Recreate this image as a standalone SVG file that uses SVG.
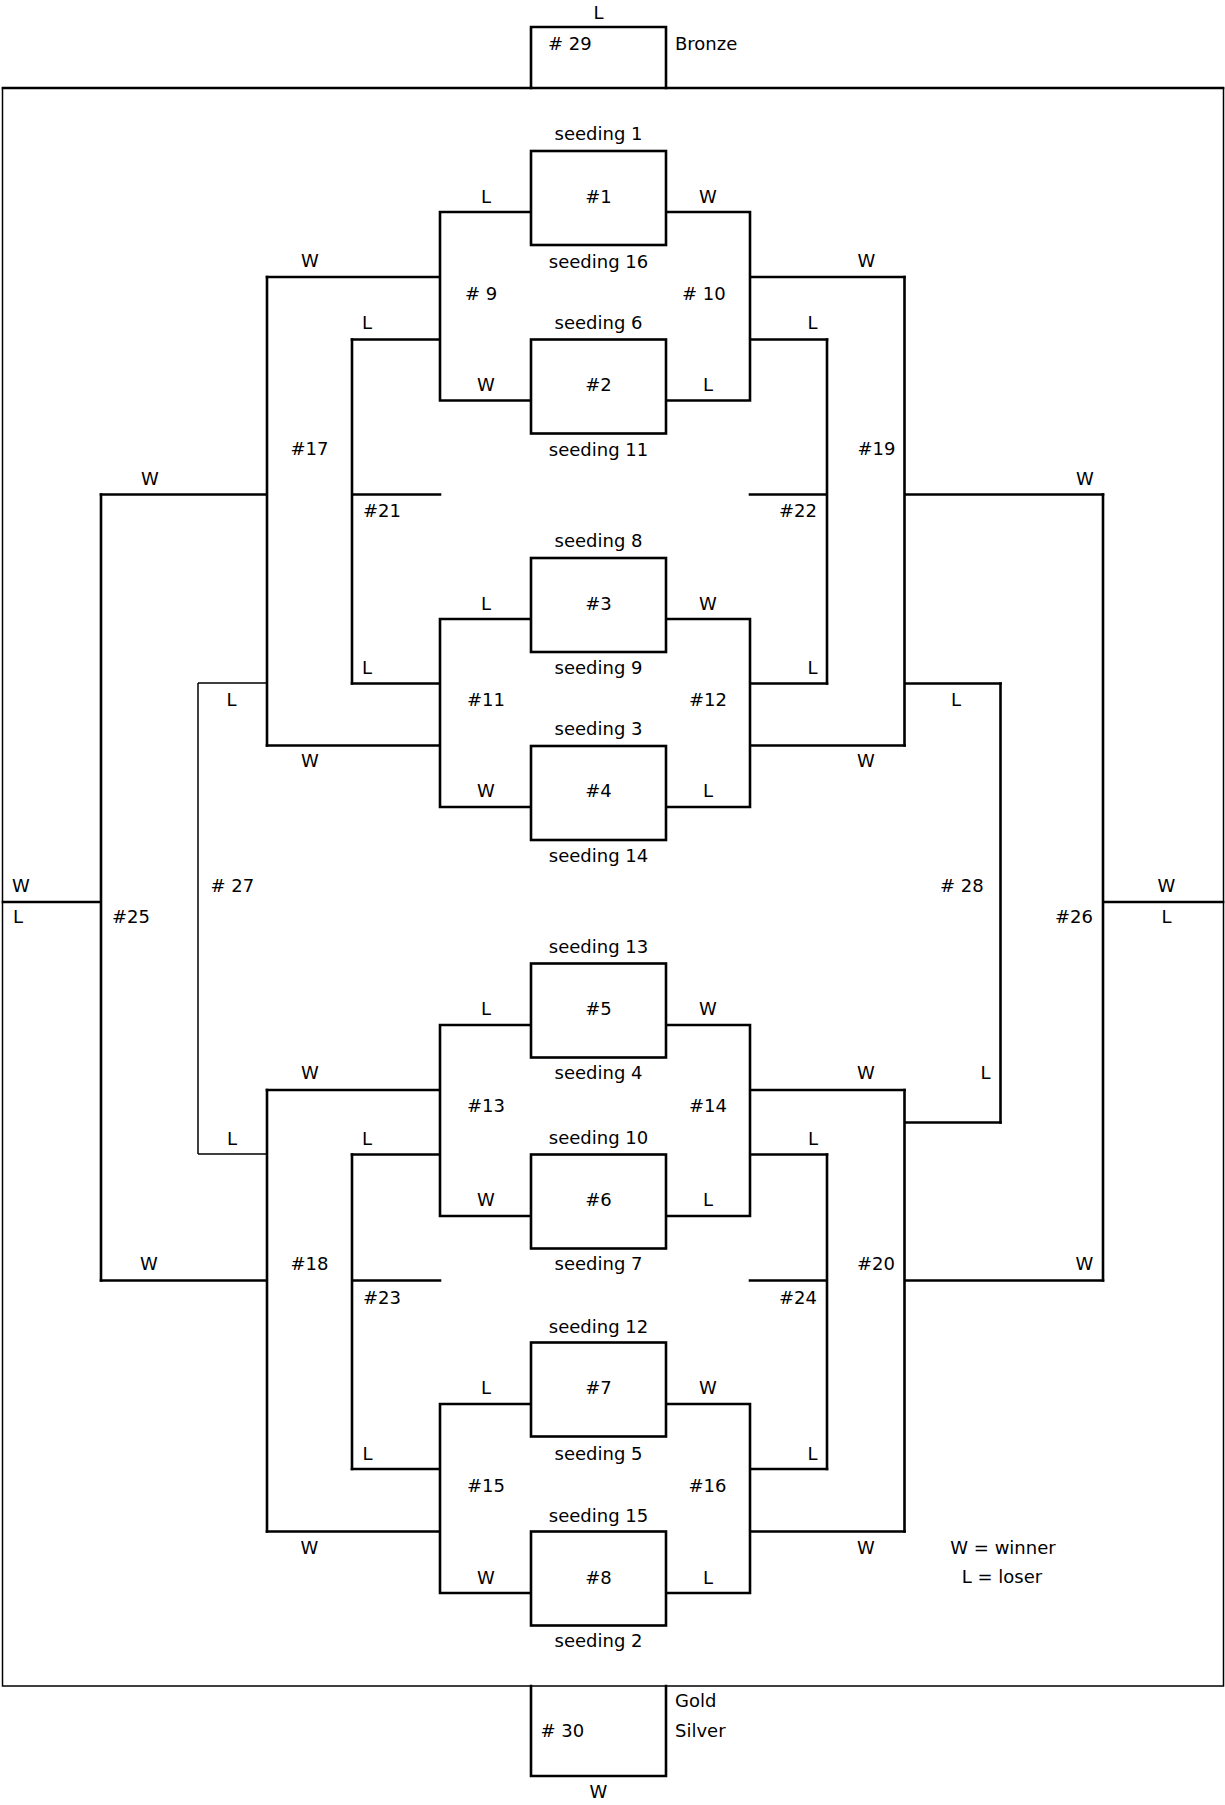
<svg xmlns="http://www.w3.org/2000/svg" width="1225" height="1805" viewBox="0 0 1225 1805">
<style>
text{font-family:"DejaVu Sans","Liberation Sans",sans-serif;font-size:18px;fill:#000}
.m{text-anchor:middle}
.e{text-anchor:end}
.ln{fill:none;stroke:#000;stroke-width:2.6;stroke-linecap:square}
.thin{fill:none;stroke:#000;stroke-width:1.5}
.box{fill:#fff;stroke:#000;stroke-width:2.6}
</style>
<rect x="0" y="0" width="1225" height="1805" fill="#fff"/>
<g id="frame">
<rect class="thin" x="2.5" y="88" width="1221" height="1598"/>
<path class="ln" d="M3,88 H1223"/>
</g>
<g id="connectors">
<!-- round 2 -->
<path id="c9" class="ln" d="M531,212 H440 V400.5 H531 M440,277 H267 M440,339.5 H352"/>
<path id="c10" class="ln" d="M666,212 H750 V400.5 H666 M750,277 H904.5 M750,339.5 H827"/>
<path id="c11" class="ln" d="M531,619 H440 V807 H531 M440,683.5 H352 M440,745.5 H267"/>
<path id="c12" class="ln" d="M666,619 H750 V807 H666 M750,683.5 H827 M750,745.5 H904.5"/>
<path id="c13" class="ln" d="M531,1025 H440 V1216 H531 M440,1090 H267 M440,1154.5 H352"/>
<path id="c14" class="ln" d="M666,1025 H750 V1216 H666 M750,1090 H904.5 M750,1154.5 H827"/>
<path id="c15" class="ln" d="M531,1404 H440 V1593 H531 M440,1469 H352 M440,1531.5 H267"/>
<path id="c16" class="ln" d="M666,1404 H750 V1593 H666 M750,1469 H827 M750,1531.5 H904.5"/>
<!-- round 3 -->
<path id="c17" class="ln" d="M267,277 V745.5 M267,494.5 H101"/>
<path id="c17L" class="thin" d="M267,683 H198"/>
<path id="c19" class="ln" d="M904.5,277 V745.5 M904.5,494.5 H1103 M904.5,683.5 H1000.5"/>
<path id="c18" class="ln" d="M267,1090 V1531.5 M267,1280.5 H101"/>
<path id="c18L" class="thin" d="M267,1154 H198"/>
<path id="c20" class="ln" d="M904.5,1090 V1531.5 M904.5,1280.5 H1103 M904.5,1122.5 H1000.5"/>
<path id="c21" class="ln" d="M352,339.5 V683.5 M352,494.5 H440"/>
<path id="c22" class="ln" d="M827,339.5 V683.5 M827,494.5 H750"/>
<path id="c23" class="ln" d="M352,1154.5 V1469 M352,1280.5 H440"/>
<path id="c24" class="ln" d="M827,1154.5 V1469 M827,1280.5 H750"/>
<!-- round 4 -->
<path id="c25" class="ln" d="M101,494.5 V1280.5 M101,902 H3"/>
<path id="c26" class="ln" d="M1103,494.5 V1280.5 M1103,902 H1223"/>
<path id="c27" class="thin" d="M198,683 V1154"/>
<path id="c28" class="ln" d="M1000.5,683.5 V1122.5"/>
<!-- finals -->
<path id="c29" class="ln" d="M531,88 V27 H666 V88"/>
<path id="c30" class="ln" d="M531,1686 V1776 H666 V1686"/>
</g>
<g id="m1"><rect class="box" x="531" y="151" width="135" height="94"/><text class="m" x="598.5" y="140">seeding 1</text><text class="m" x="598.5" y="203">#1</text><text class="m" x="598.5" y="268">seeding 16</text><text class="m" x="486" y="203">L</text><text class="m" x="708" y="203">W</text></g>
<g id="m2"><rect class="box" x="531" y="339.5" width="135" height="94"/><text class="m" x="598.5" y="329">seeding 6</text><text class="m" x="598.5" y="391">#2</text><text class="m" x="598.5" y="456">seeding 11</text><text class="m" x="486" y="391">W</text><text class="m" x="708" y="391">L</text></g>
<g id="m3"><rect class="box" x="531" y="558" width="135" height="94"/><text class="m" x="598.5" y="547">seeding 8</text><text class="m" x="598.5" y="609.5">#3</text><text class="m" x="598.5" y="674">seeding 9</text><text class="m" x="486" y="609.5">L</text><text class="m" x="708" y="609.5">W</text></g>
<g id="m4"><rect class="box" x="531" y="746" width="135" height="94"/><text class="m" x="598.5" y="735">seeding 3</text><text class="m" x="598.5" y="797">#4</text><text class="m" x="598.5" y="862">seeding 14</text><text class="m" x="486" y="797">W</text><text class="m" x="708" y="797">L</text></g>
<g id="m5"><rect class="box" x="531" y="963.5" width="135" height="94"/><text class="m" x="598.5" y="953">seeding 13</text><text class="m" x="598.5" y="1015">#5</text><text class="m" x="598.5" y="1079">seeding 4</text><text class="m" x="486" y="1015">L</text><text class="m" x="708" y="1015">W</text></g>
<g id="m6"><rect class="box" x="531" y="1154.5" width="135" height="94"/><text class="m" x="598.5" y="1144">seeding 10</text><text class="m" x="598.5" y="1206">#6</text><text class="m" x="598.5" y="1270">seeding 7</text><text class="m" x="486" y="1206">W</text><text class="m" x="708" y="1206">L</text></g>
<g id="m7"><rect class="box" x="531" y="1342.5" width="135" height="94"/><text class="m" x="598.5" y="1332.5">seeding 12</text><text class="m" x="598.5" y="1394">#7</text><text class="m" x="598.5" y="1460">seeding 5</text><text class="m" x="486" y="1394">L</text><text class="m" x="708" y="1394">W</text></g>
<g id="m8"><rect class="box" x="531" y="1531.5" width="135" height="94"/><text class="m" x="598.5" y="1521.5">seeding 15</text><text class="m" x="598.5" y="1583.5">#8</text><text class="m" x="598.5" y="1647">seeding 2</text><text class="m" x="486" y="1583.5">W</text><text class="m" x="708" y="1583.5">L</text></g>
<g id="m9"><text x="465" y="300"># 9</text><text class="m" x="310" y="267">W</text><text class="m" x="367" y="329">L</text></g>
<g id="m10"><text x="682" y="300"># 10</text><text class="m" x="866.5" y="267">W</text><text class="m" x="812.5" y="329">L</text></g>
<g id="m11"><text class="m" x="486" y="706">#11</text><text x="362" y="674">L</text><text class="m" x="310" y="767">W</text></g>
<g id="m12"><text class="m" x="708" y="706">#12</text><text class="m" x="812.5" y="674">L</text><text class="m" x="866" y="767">W</text></g>
<g id="m13"><text class="m" x="486" y="1112">#13</text><text class="m" x="310" y="1079">W</text><text class="m" x="367" y="1144.5">L</text></g>
<g id="m14"><text class="m" x="708" y="1112">#14</text><text class="m" x="866" y="1079">W</text><text class="m" x="813" y="1144.5">L</text></g>
<g id="m15"><text class="m" x="486" y="1492">#15</text><text x="362.5" y="1460">L</text><text class="m" x="309.5" y="1553.5">W</text></g>
<g id="m16"><text class="m" x="707.5" y="1492">#16</text><text class="m" x="812.5" y="1460">L</text><text class="m" x="866" y="1553.5">W</text></g>
<g id="m17"><text x="290.5" y="455">#17</text><text class="m" x="150" y="485">W</text><text x="226.5" y="706">L</text></g>
<g id="m19"><text x="857.5" y="455">#19</text><text class="m" x="1085" y="485">W</text><text class="m" x="956" y="706">L</text></g>
<g id="m18"><text class="m" x="309.5" y="1270">#18</text><text class="m" x="149" y="1270">W</text><text class="m" x="232" y="1144.5">L</text></g>
<g id="m20"><text class="e" x="895" y="1270">#20</text><text class="m" x="1084.5" y="1270">W</text><text class="m" x="985.5" y="1079">L</text></g>
<g id="m21"><text x="363" y="517">#21</text></g>
<g id="m22"><text class="e" x="817" y="517">#22</text></g>
<g id="m23"><text x="363" y="1303.5">#23</text></g>
<g id="m24"><text class="e" x="817" y="1303.5">#24</text></g>
<g id="m25"><text x="112" y="923">#25</text><text x="12" y="891.5">W</text><text x="13" y="923">L</text></g>
<g id="m26"><text class="e" x="1093" y="923">#26</text><text class="m" x="1166.5" y="891.5">W</text><text class="m" x="1166.5" y="923">L</text></g>
<g id="m27"><text x="210.5" y="891.5"># 27</text></g>
<g id="m28"><text x="940" y="891.5"># 28</text></g>
<g id="m29"><text class="m" x="598.5" y="19">L</text><text x="548" y="50"># 29</text><text x="675" y="50">Bronze</text></g>
<g id="m30"><text x="540.5" y="1737"># 30</text><text x="675" y="1707">Gold</text><text x="675" y="1737">Silver</text><text class="m" x="598.5" y="1798">W</text></g>
<g id="legend"><text class="m" x="1003" y="1553.5">W = winner</text><text class="m" x="1002" y="1583">L = loser</text></g>
</svg>
